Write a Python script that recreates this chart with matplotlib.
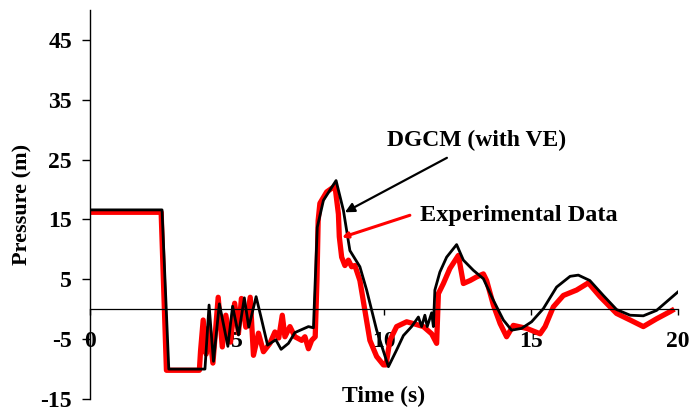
import numpy as np
import matplotlib
matplotlib.use("Agg")
import matplotlib.pyplot as plt

plt.rcParams["font.family"] = ["Liberation Serif", "DejaVu Serif"]
plt.rcParams["font.weight"] = "bold"
plt.rcParams["axes.unicode_minus"] = False

# DGCM (with VE) model, time (s) / pressure (m)
t_dgcm = [0, 2.45, 2.68, 3.91, 4.05, 4.2, 4.4, 4.69, 4.85, 5.05, 5.25, 5.4, 5.65, 5.84,
          6.04, 6.32, 6.5, 6.75, 6.97, 7.2, 7.43, 7.6, 7.73, 7.94, 8.37, 8.62, 8.84,
          9.18, 9.41, 9.75, 10.15, 10.43, 10.66, 10.94, 11.17, 11.28, 11.39, 11.47,
          11.62, 11.68, 11.73, 11.9, 12.13, 12.47, 12.7, 13.04, 13.38, 13.72, 14.06,
          14.34, 14.68, 15.02, 15.42, 15.87, 16.33, 16.61, 17.0, 17.46, 17.91, 18.37,
          18.82, 19.27, 19.6, 20.0]
p_dgcm = [16.6, 16.6, -10.0, -10.0, 0.7, -8.7, 0.9, -6.2, 0.5, -4.3, 1.9, -3.0, 2.1, -1.8,
          -6.0, -5.1, -6.7, -5.7, -3.9, -3.4, -2.9, -3.1, 13.7, 18.2, 21.5, 16.5, 9.8,
          7.1, 3.2, -3.5, -9.6, -6.8, -4.4, -2.9, -1.3, -2.9, -1.0, -2.9,
          -0.6, -2.9, 3.2, 6.2, 8.7, 10.8, 8.2, 6.5, 5.1, 1.5, -1.8,
          -3.5, -3.2, -2.1, 0.1, 3.7, 5.5, 5.7, 4.8, 2.3, -0.05, -1.0,
          -1.1, -0.2, 1.2, 2.9]

# experimental data
t_exp = [0, 2.42, 2.6, 3.72, 3.76, 3.85, 3.95, 4.05, 4.18, 4.36, 4.5, 4.62, 4.78, 4.92,
         5.05, 5.15, 5.3, 5.45, 5.56, 5.73, 5.9, 6.12, 6.29, 6.42, 6.54, 6.63, 6.8,
         6.97, 7.2, 7.31, 7.43, 7.54, 7.66, 7.72, 7.76, 7.82, 8.05, 8.28, 8.33, 8.45,
         8.48, 8.56, 8.67, 8.79, 8.9, 9.01, 9.18, 9.35, 9.52, 9.75, 9.98, 10.07, 10.2,
         10.43, 10.77, 11.0, 11.34, 11.62, 11.79, 11.85, 12.02, 12.24, 12.53, 12.7,
         12.93, 13.15, 13.38, 13.49, 13.72, 13.95, 14.17, 14.4, 14.85, 15.31, 15.48,
         15.76, 16.1, 16.55, 16.95, 17.35, 17.91, 18.37, 18.82, 19.27, 19.73, 19.8]
p_exp = [16.2, 16.2, -10.2, -10.2, -7.0, -1.8, -7.5, -3.0, -9.0, 2.0, -6.3, -1.0, -5.5, 1.0,
         -4.0, 1.8, -3.0, 2.0, -7.7, -4.0, -7.1, -5.7, -3.8, -4.8, -1.0, -4.6, -2.9,
         -4.6, -5.2, -4.6, -6.6, -5.2, -4.6, 5.0, 14.8, 17.7, 19.6, 20.4, 20.7, 15.9,
         12.1, 8.7, 7.3, 8.2, 7.1, 7.3, 4.8, -0.2, -5.2, -7.9, -9.3, -9.3, -5.2,
         -2.9, -2.1, -2.4, -2.9, -4.1, -5.7, 2.6, 4.3, 6.8, 9.0, 4.3,
         4.8, 5.4, 5.9, 4.8, 0.7, -2.4, -4.6, -2.7, -3.2, -4.1, -2.9,
         0.4, 2.3, 3.2, 4.4, 2.1, -0.7, -1.8, -2.9, -1.6, -0.4, -0.2]

xticks = [0, 5, 10, 15, 20]
yticks = [-15, -5, 5, 15, 25, 35, 45]

fig = plt.figure(figsize=(6.91, 4.12), dpi=100)
ax = fig.add_axes([90 / 691, 1 - 399 / 412, 588 / 691, 389 / 412])

ax.plot(t_exp, p_exp, color="red", lw=3.8, solid_joinstyle="round")
ax.plot(t_dgcm, p_dgcm, color="black", lw=2.0, solid_joinstyle="round")

ax.set_xlim(0, 20)
ax.set_ylim(-15, 50)
ax.set_xticks(xticks)
ax.set_yticks(yticks)
ax.set_axisbelow(True)

ax.spines["top"].set_visible(False)
ax.spines["right"].set_visible(False)
ax.spines["bottom"].set_position(("data", 0))
ax.spines["bottom"].set_linewidth(0.9)
ax.spines["left"].set_linewidth(1.0)

ax.tick_params(axis="y", direction="out", length=6, width=1, pad=7, labelsize=17)
ax.tick_params(axis="x", direction="out", length=4, width=1, pad=12, labelsize=17)

ax.set_xlabel("Time (s)", fontsize=17, fontweight="bold")
ax.xaxis.set_label_coords(0.5, 0.035)
ax.set_ylabel("Pressure (m)", fontsize=16, fontweight="bold")
ax.yaxis.set_label_coords(-0.098, 0.5)

ax.text(13.16, 28.2, "DGCM (with VE)", fontsize=17, fontweight="bold",
        ha="center", va="center")
ax.annotate("", xy=(8.67, 16.2), xytext=(12.14, 25.3),
            arrowprops=dict(arrowstyle="-|>", color="black", lw=1.6,
                            mutation_scale=14, shrinkA=0, shrinkB=0))
ax.text(11.22, 15.7, "Experimental Data", fontsize=17.5, fontweight="bold",
        ha="left", va="center")
ax.annotate("", xy=(8.57, 12.0), xytext=(10.88, 15.7),
            arrowprops=dict(arrowstyle="-|>", color="red", lw=2.2,
                            mutation_scale=8, shrinkA=0, shrinkB=0))

fig.savefig("out.png", dpi=100)
